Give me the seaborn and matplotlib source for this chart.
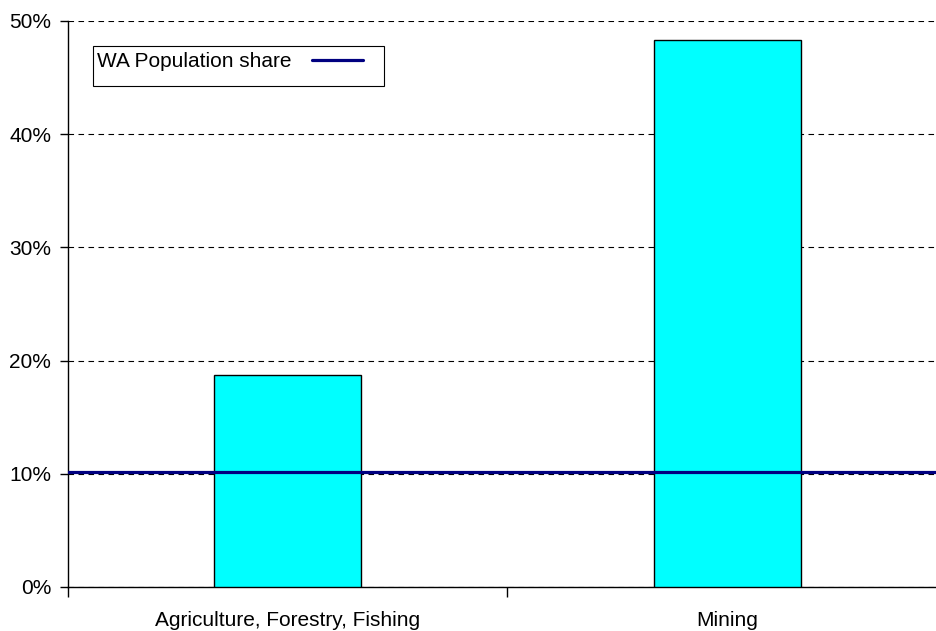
import matplotlib
matplotlib.use("Agg")
import matplotlib.pyplot as plt
import seaborn as sns
import pandas as pd
from matplotlib.patches import Rectangle
from matplotlib.ticker import PercentFormatter, FixedLocator

# Industry shares
categories = ["Agriculture, Forestry, Fishing", "Mining"]
shares = [18.75, 48.3]
population_share = 10.2
y_ticks = [0, 10, 20, 30, 40, 50]

sns.set_style("white")
plt.rcParams["font.family"] = ["Liberation Sans", "DejaVu Sans"]
plt.rcParams["text.color"] = "black"
plt.rcParams["xtick.color"] = "black"
plt.rcParams["ytick.color"] = "black"

FS = 15

df = pd.DataFrame({"industry": categories, "share": shares})

fig = plt.figure(figsize=(9.37, 6.31), dpi=100)
ax = fig.add_axes([68 / 937, 1 - 587 / 631, (947 - 68) / 937, (587 - 21) / 631])

sns.barplot(data=df, x="industry", y="share", color="#00FFFF", saturation=1,
            width=0.334, edgecolor="black", linewidth=1.0, ax=ax, zorder=3)

ax.axhline(population_share, color="#000080", lw=2.3, zorder=4,
           label="WA Population share")

ax.set_xlim(-0.5, 1.5)
ax.set_ylim(0, 50)
ax.yaxis.set_major_locator(FixedLocator(y_ticks))
ax.yaxis.set_major_formatter(PercentFormatter(decimals=0))
ax.grid(axis="y", color="black", linestyle=(0, (5, 4)), lw=0.8, zorder=1)

# category boundaries carry the x ticks
ax.set_xticks([-0.5, 0.5, 1.5], minor=False)
ax.set_xticklabels([])
ax.set_xticks([0, 1], minor=True)
ax.set_xticklabels(categories, minor=True, fontsize=FS)
ax.tick_params(axis="x", which="minor", length=0, pad=17.5)
ax.tick_params(axis="x", which="major", length=7, width=1, direction="out", bottom=True)
ax.tick_params(axis="y", length=6, width=1, direction="out", left=True, labelsize=FS, pad=6)
ax.set_xlabel("")
ax.set_ylabel("")

for side in ["top", "right"]:
    ax.spines[side].set_visible(False)
for side in ["left", "bottom"]:
    ax.spines[side].set_color("black")
    ax.spines[side].set_linewidth(1.0)

# legend entry with a boxed frame around it
leg = fig.legend(loc="upper left", bbox_to_anchor=(97 / 937, 1 - 52 / 631),
                 frameon=False, fontsize=FS, markerfirst=False,
                 handlelength=2.45, handletextpad=1.0,
                 borderpad=0, borderaxespad=0)
fig.patches.append(Rectangle((93 / 937, 1 - 86 / 631), 291 / 937, 40 / 631,
                             transform=fig.transFigure, fill=False,
                             edgecolor="black", linewidth=0.8))

fig.savefig("out.png", dpi=100, facecolor="white")
